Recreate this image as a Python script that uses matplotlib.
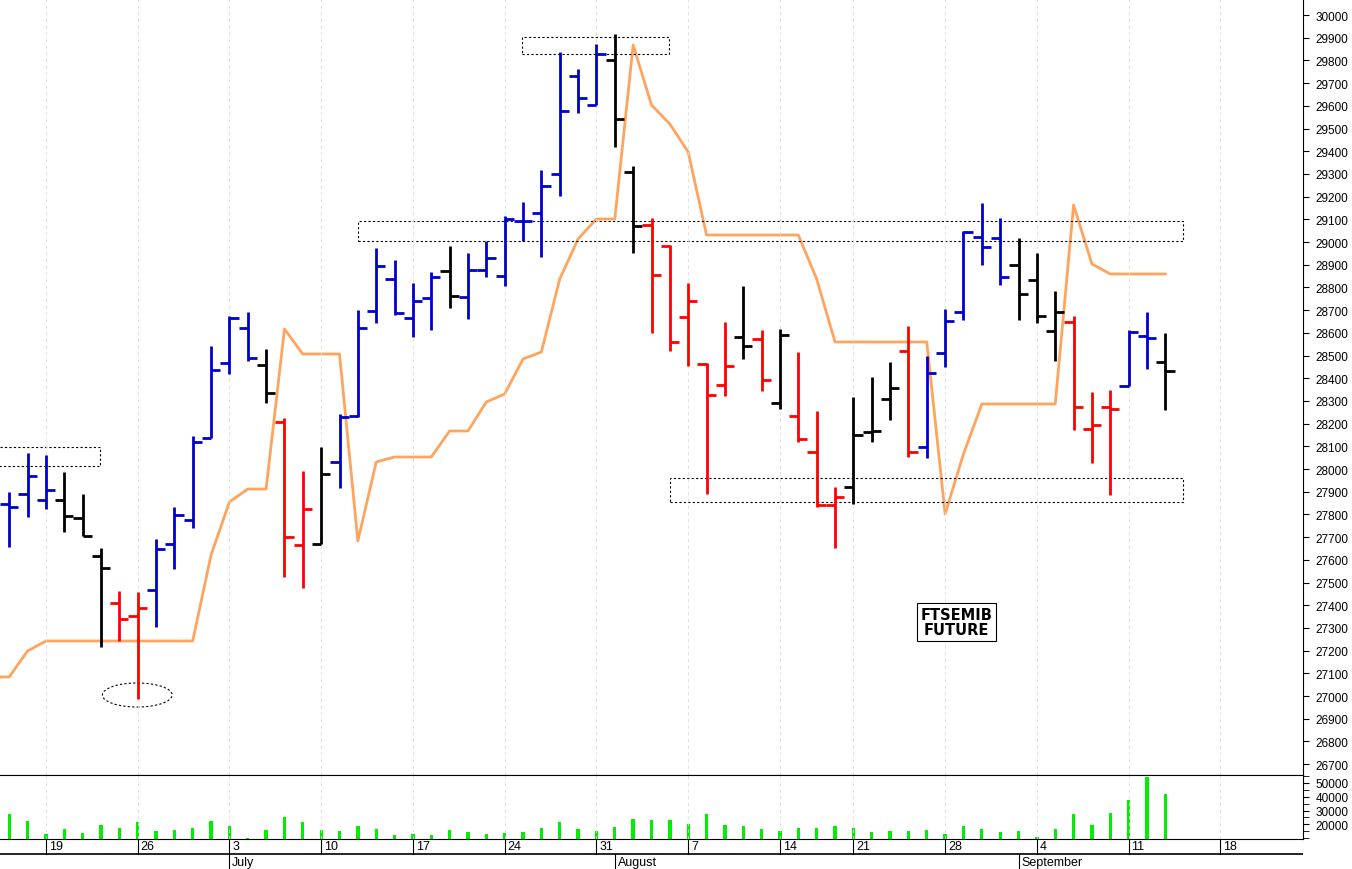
import matplotlib
matplotlib.use("Agg")
import matplotlib.pyplot as plt
import numpy as np
from matplotlib.patches import Rectangle, Ellipse

plt.rcParams['font.family'] = ['Liberation Sans', 'DejaVu Sans']

def p(y):
    return 30000 - (y - 16) * 4.405

# pixel-read OHLC (y positions converted to prices)
high_y  = [493,454,456,473,495,549,592,593,540,508,437,347,317,313,350,419,472,448,415,311,249,261,284,273,247,254,
           242,217,203,171,53,70,45,35,167,219,246,284,364,323,287,331,330,353,412,488,398,378,363,327,357,310,232,204,219,239,254,292,317,393,391,331,313,334]
low_y   = [548,518,510,533,537,648,642,700,628,570,529,439,375,362,404,578,589,545,489,418,324,316,338,331,309,320,
           278,287,242,258,197,114,106,148,254,334,352,367,495,397,360,392,410,443,508,549,505,443,421,458,459,368,321,266,286,321,324,362,431,464,496,387,370,411]
open_y  = [505,495,501,501,519,557,604,617,591,545,521,439,364,329,366,423,546,545,463,417,312,280,319,299,272,298,
           271,277,222,214,175,77,106,61,173,226,247,318,365,386,338,340,404,417,453,506,488,433,400,352,448,354,313,238,239,266,281,332,323,430,408,387,337,363]
close_y = [508,477,491,517,537,569,620,609,550,516,443,371,319,359,394,538,510,475,418,329,267,314,302,278,297,271,
           259,220,222,187,112,99,55,120,227,276,343,302,396,367,347,381,336,440,506,498,436,432,389,453,374,322,233,248,278,295,317,313,408,426,410,333,339,372]
colors_code = "BBBKKKRRBBBBBBKRRKBBBBBBKB" "BBBBBBBKKRRRRRKRKRRRKKKRBBBBBKKKRRRBBK"
orange_y = [678,678,652,642,642,642,642,642,642,642,642,642,556,503,490,490,330,355,355,355,542,463,458,458,458,432,432,
            403,395,360,353,280,240,220,220,46,106,125,153,236,236,236,236,236,236,280,343,343,343,343,343,343,515,455,405,
            405,405,405,405,206,265,275,275,275,275]
volume = [27300,22300,13000,16800,13600,19800,17500,21300,15000,15500,17300,22300,18800,10000,15800,25000,21300,15500,
          15300,19000,16500,12000,13000,12300,15800,14500,13000,13600,14500,17300,21500,16500,15300,18300,23500,22800,
          22800,20000,27300,19300,18800,16500,15300,17300,17300,19000,17300,14300,15300,15000,15800,13000,18800,16500,
          14300,15300,10800,16300,27300,19300,28000,37800,54300,42300]
week_labels = ["19","26","3","10","17","24","31","7","14","21","28","4","11","18"]
week_idx = [2,7,12,17,22,27,32,37,42,46,51,56,61,66]
month_labels = ["July","August","September"]
month_idx = [12,33,55]

highs = [p(v) for v in high_y]; lows = [p(v) for v in low_y]
opens = [p(v) for v in open_y]; closes = [p(v) for v in close_y]
orange = [p(v) for v in orange_y]
cmap = {'B': '#0000CC', 'R': '#FF0000', 'K': '#000000'}

W, H = 1352, 870
fig = plt.figure(figsize=(W/100, H/100), dpi=100)
axw = 1303 / W
ax = fig.add_axes([0, 1 - 776/H, axw, 776/H])
axv = fig.add_axes([0, 30/H, axw, 64/H])
axd = fig.add_axes([0, 0, axw, 30/H])
xl = (-0.5, 70.5)
n = len(highs)
x = np.arange(n)
for i in range(n):
    c = cmap[colors_code[i]]
    ax.plot([i, i], [lows[i], highs[i]], color=c, lw=2.0, solid_capstyle='butt')
    ax.plot([i - 0.5, i], [opens[i], opens[i]], color=c, lw=2.0, solid_capstyle='butt')
    ax.plot([i, i + 0.5], [closes[i], closes[i]], color=c, lw=2.0, solid_capstyle='butt')
ax.plot(np.arange(-1, n), orange, color='#FFA45E', lw=2.0, zorder=1)
for r in [(-0.6, p(467), 5.56, p(448)-p(467)), (27.96, p(55), 8.0, p(38)-p(55)),
          (19.0, p(242), 44.98, p(222)-p(242)), (36.0, p(503), 27.98, p(479)-p(503))]:
    ax.add_patch(Rectangle((r[0], r[1]), r[2], r[3], fill=False, ls=(0, (2, 2)), lw=0.8, ec='black'))
ax.add_patch(Ellipse((6.98, p(696)), 3.8, 106, fill=False, ls=(0, (2, 2)), lw=0.8, ec='black'))
ax.text(51.6, p(623), "FTSEMIB\nFUTURE", ha='center', va='center', fontsize=10.5, fontweight='bold',
        linespacing=1.0, family=['DejaVu Sans'],
        bbox=dict(boxstyle='square,pad=0.25', fc='white', ec='black', lw=0.8))
ax.set_xlim(*xl)
ax.set_ylim(p(776), p(0))
ax.set_yticks(np.arange(26700, 30001, 100))
ax.set_yticklabels([str(v) for v in range(26700, 30001, 100)], fontsize=8.5)
ax.yaxis.tick_right()
ax.set_xticks(week_idx)
ax.set_xticklabels([])
ax.tick_params(axis='x', length=0)
ax.tick_params(axis='y', length=4, pad=5)
ax.grid(axis='x', color='#dddddd', ls=(0, (4, 4)), lw=0.6)
for s in ['left', 'top']:
    ax.spines[s].set_visible(False)

axv.bar(x, volume, width=0.18, color='#00EE00')
axv.set_xlim(*xl)
axv.set_ylim(9300, 55800)
axv.set_yticks([20000, 30000, 40000, 50000])
axv.set_yticks(np.arange(10000, 55001, 5000), minor=True)
axv.set_yticklabels(["20000", "30000", "40000", "50000"], fontsize=8.5)
axv.yaxis.tick_right()
axv.yaxis.set_tick_params(which='both', length=4, pad=5)
axv.set_xticks(week_idx); axv.set_xticklabels([])
axv.tick_params(axis='x', length=0)
axv.grid(axis='x', color='#dddddd', ls=(0, (4, 4)), lw=0.6)
axv.spines['left'].set_visible(False)

axd.set_xlim(*xl); axd.set_ylim(0, 30)
axd.axis('off')
axd.axhline(15, color='black', lw=1.2)
for lab, i in zip(week_labels, week_idx):
    axd.plot([i, i], [15, 30], color='black', lw=0.8)
    axd.text(i + 0.15, 22.5, lab, fontsize=9, va='center', ha='left')
for lab, i in zip(month_labels, month_idx):
    axd.plot([i, i], [0, 15], color='black', lw=0.8)
    axd.text(i + 0.15, 7, lab, fontsize=9, va='center', ha='left')
fig.savefig("out.png", dpi=100)
